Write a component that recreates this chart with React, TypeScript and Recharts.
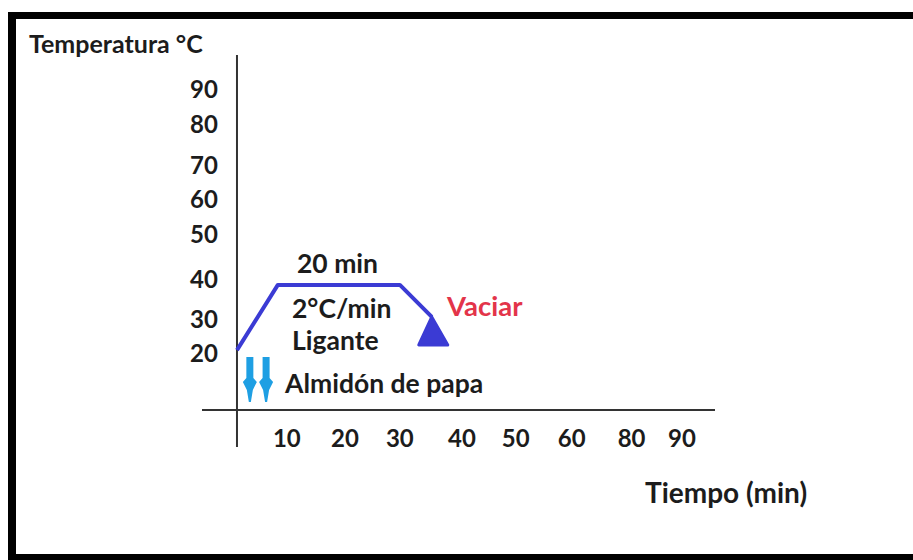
import React from 'react';
import { ComposedChart, Line, Scatter, XAxis, YAxis, ReferenceLine } from 'recharts';

// perfil de temperatura (min, °C)
const tiempo = [0, 7.3, 29.1, 34.8];
const temperatura = [20.5, 37.8, 37.8, 29.3];

// marcas de los ejes, escritas a mano en el original
const xTickValues = [8.9, 19.3, 29.1, 40.2, 49.8, 59.8, 70.5, 79.5];
const xTickLabels = ['10', '20', '30', '40', '50', '60', '80', '90'];
const yTickValues = [20, 29, 39.6, 51.5, 60.8, 69.8, 80.7, 90];
const yTickLabels = ['20', '30', '40', '50', '60', '70', '80', '90'];

// flechas de "Almidón de papa"
const flechasT = [2.3, 5.2];
const flechasV = [12.6, 12.6];

const xDomain = [-6.25, 85.4];
const yDomain = [-5.2, 98.8];
const ejeXValor = 4.6;

const FONT = 'Lato, "Open Sans", sans-serif';
const TEXT = '#1c1c1c';

const perfil = tiempo.map((t, i) => ({ t, v: temperatura[i] }));
const flechas = flechasT.map((t, i) => ({ t, v: flechasV[i] }));

const labelFor = (values: number[], labels: string[], v: number) => {
  const i = values.indexOf(v);
  return i >= 0 ? labels[i] : '';
};

const XTick = (props: any) => {
  const { x, y, payload } = props;
  return (
    <text x={x} y={y - 10} textAnchor="middle" dominantBaseline="central" fontFamily={FONT} fontWeight={700} fontSize={24} fill={TEXT}>
      {labelFor(xTickValues, xTickLabels, payload.value)}
    </text>
  );
};

const YTick = (props: any) => {
  const { x, y, payload } = props;
  return (
    <text x={x - 12} y={y} textAnchor="start" dominantBaseline="central" fontFamily={FONT} fontWeight={700} fontSize={24} fill={TEXT}>
      {labelFor(yTickValues, yTickLabels, payload.value)}
    </text>
  );
};

const Flecha = (props: any) => {
  const { cx, cy } = props;
  if (cx == null || cy == null) return <g />;
  const pts = [
    [cx - 3.5, cy - 23], [cx + 3.5, cy - 23], [cx + 3.5, cy - 2], [cx + 7, cy + 2],
    [cx + 3, cy + 10], [cx + 1, cy + 22], [cx - 1, cy + 22], [cx - 3, cy + 10],
    [cx - 7, cy + 2], [cx - 3.5, cy - 2],
  ].map((p) => p.join(',')).join(' ');
  return <polygon points={pts} fill="#1e9fe3" />;
};

const PuntaFinal = (props: any) => {
  const { cx, cy, index } = props;
  if (index !== perfil.length - 1) return <g key={`d-${index}`} />;
  const pts = `${cx},${cy} ${cx - 13},${cy + 28} ${cx + 16},${cy + 28}`;
  return <polygon key={`d-${index}`} points={pts} fill="#3b3bd4" stroke="#3b3bd4" strokeWidth={3} strokeLinejoin="round" />;
};

const label = (x: number, y: number, s: string, size: number, color = TEXT) => (
  <text x={x} y={y} dominantBaseline="central" fontFamily={FONT} fontWeight={700} fontSize={size} fill={color}>
    {s}
  </text>
);

export default function App() {
  return (
    <div style={{ position: 'absolute', left: 0, top: 0, width: 913, height: 560, overflow: 'hidden', background: '#fff' }}>
      <div
        style={{
          position: 'absolute', left: 8, top: 12, width: 1000, height: 548, boxSizing: 'border-box',
          borderTop: '7px solid #000', borderLeft: '8px solid #000', borderBottom: '6px solid #000',
        }}
      />
      <div style={{ position: 'absolute', left: 0, top: 0 }}>
        <ComposedChart width={913} height={560} margin={{ top: 55, right: 198, bottom: 83, left: 172 }}>
          <XAxis
            type="number"
            dataKey="t"
            domain={xDomain}
            ticks={xTickValues}
            allowDataOverflow
            axisLine={false}
            tickLine={false}
            tickSize={0}
            tickMargin={0}
            height={30}
            interval={0}
            tick={(p: any) => <XTick {...p} />}
          />
          <YAxis
            type="number"
            dataKey="v"
            domain={yDomain}
            ticks={yTickValues}
            allowDataOverflow
            axisLine={false}
            tickLine={false}
            tickSize={0}
            tickMargin={0}
            width={30}
            interval={0}
            tick={(p: any) => <YTick {...p} />}
          />
          <ReferenceLine x={0} stroke="#333" strokeWidth={2} />
          <ReferenceLine y={ejeXValor} stroke="#333" strokeWidth={2} />
          <Line
            data={perfil}
            dataKey="v"
            stroke="#3b3bd4"
            strokeWidth={4}
            strokeLinejoin="round"
            dot={(p: any) => <PuntaFinal {...p} />}
            activeDot={false}
            isAnimationActive={false}
          />
          <Scatter data={flechas} dataKey="v" shape={<Flecha />} isAnimationActive={false} />
        </ComposedChart>
      </div>
      <svg width={913} height={560} style={{ position: 'absolute', left: 0, top: 0, pointerEvents: 'none' }}>
        {label(29, 43, 'Temperatura °C', 25)}
        {label(297, 263, '20 min', 26.5)}
        {label(292, 308, '2°C/min', 26.5)}
        {label(292, 340, 'Ligante', 26.5)}
        {label(285, 383, 'Almidón de papa', 26.5)}
        {label(447, 305, 'Vaciar', 27.5, '#e3344a')}
        {label(645, 492, 'Tiempo (min)', 28)}
      </svg>
    </div>
  );
}
